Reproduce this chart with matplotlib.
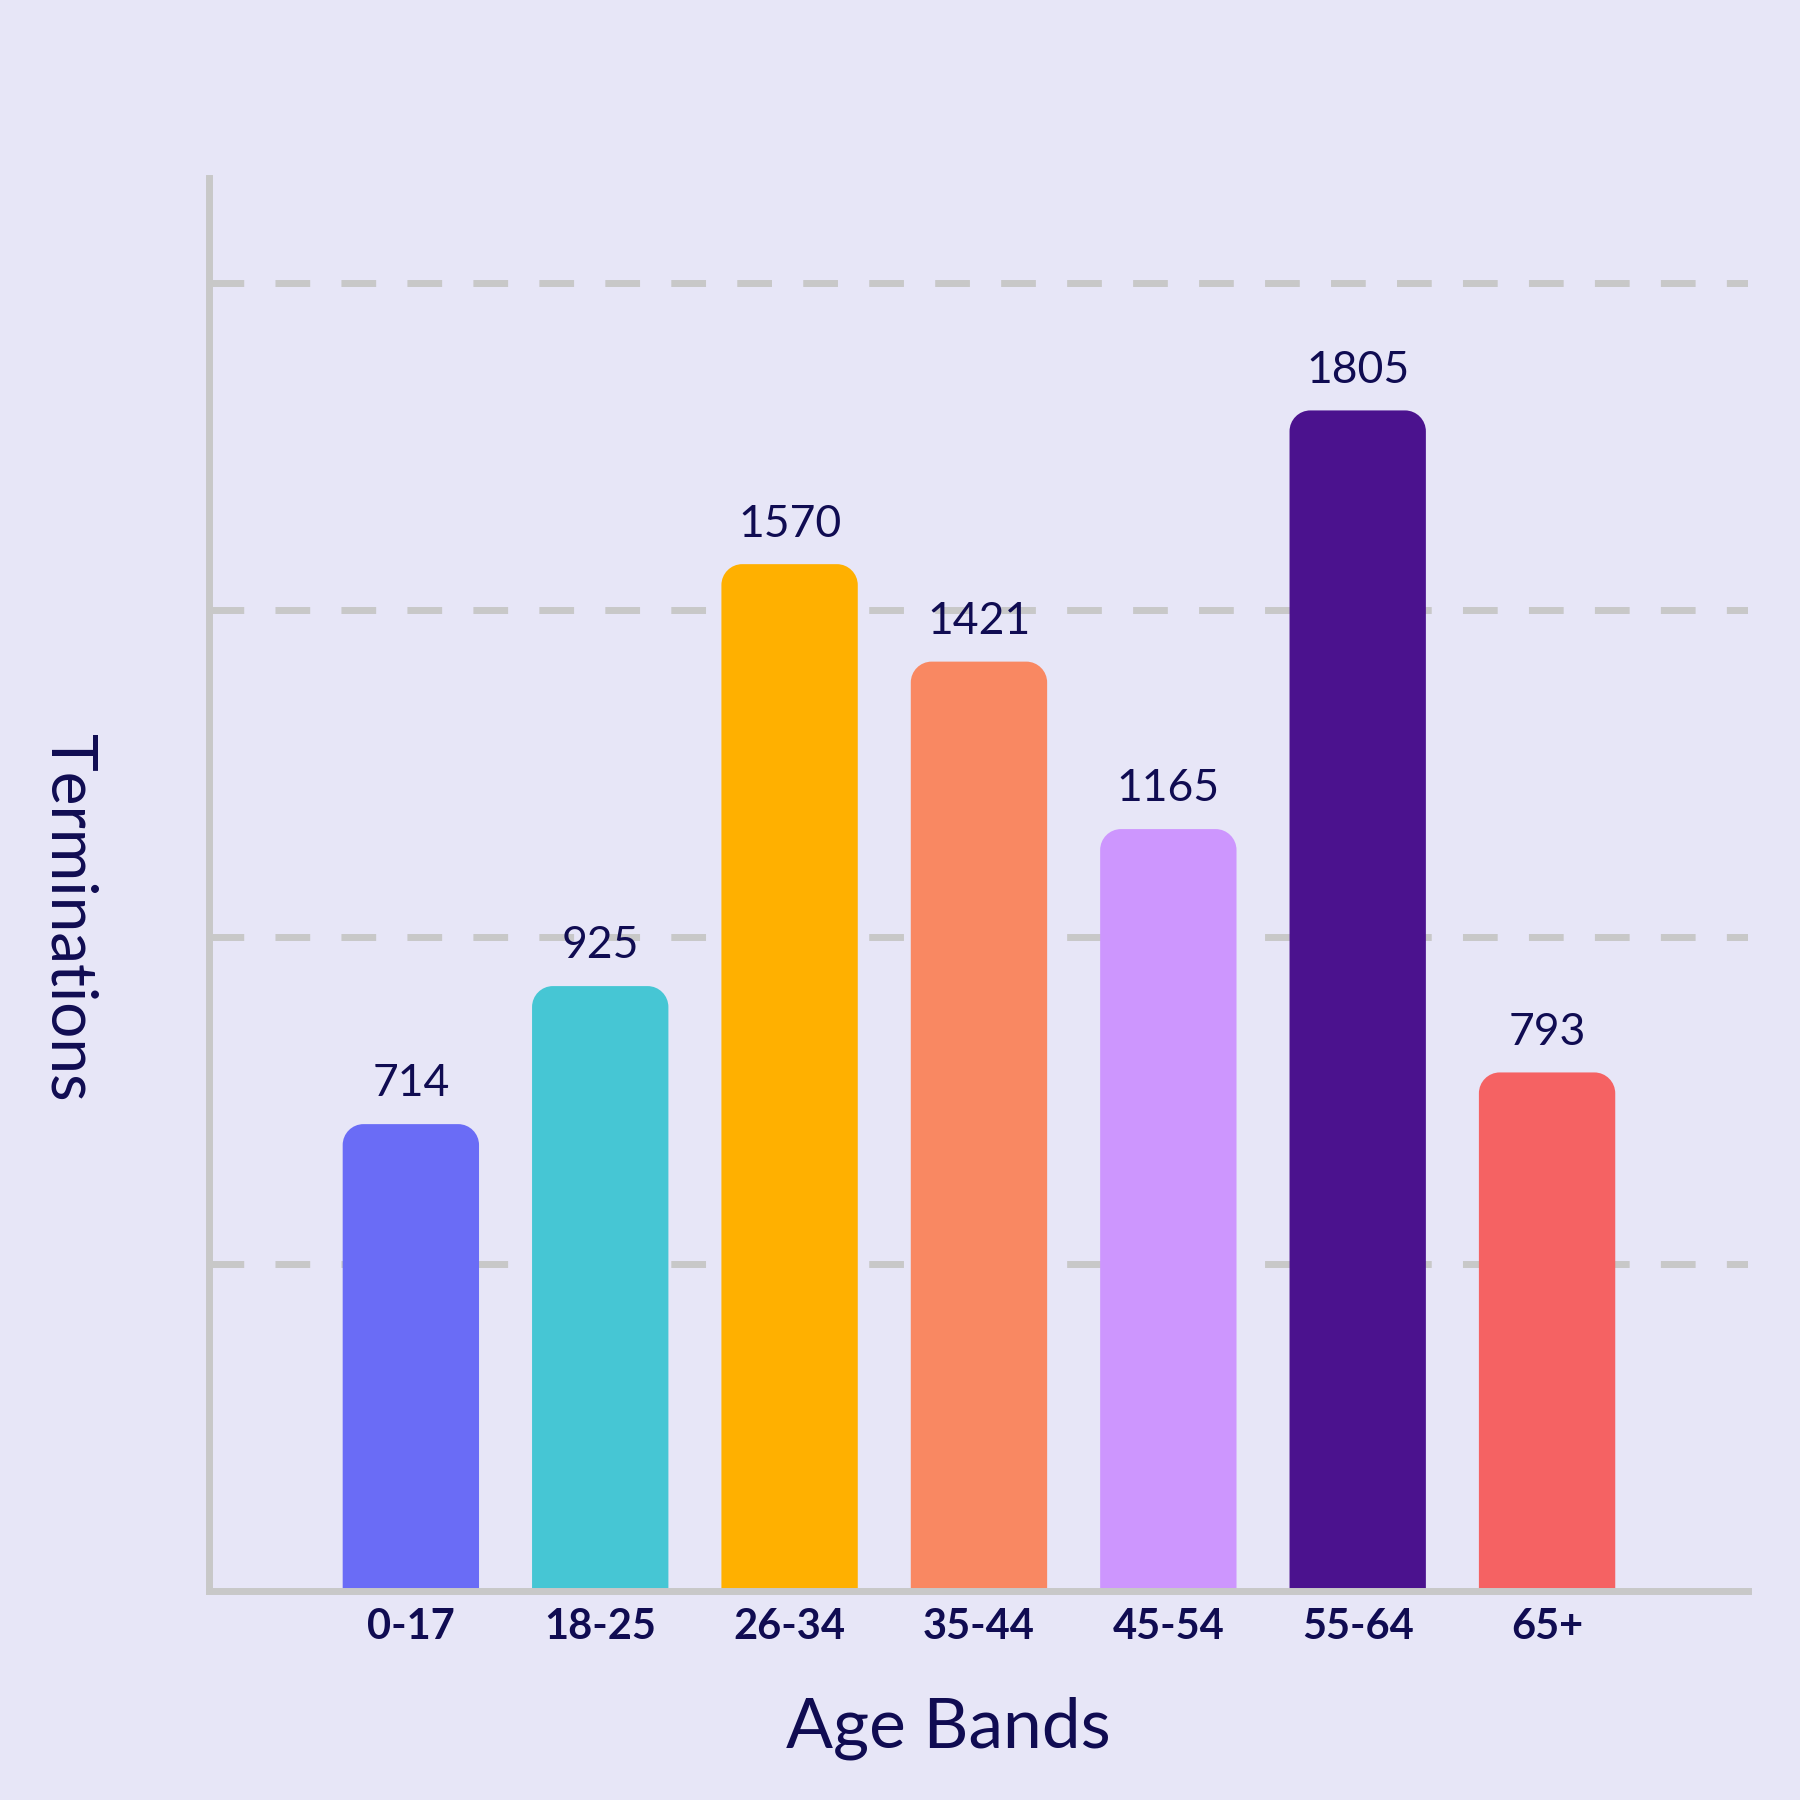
import matplotlib
matplotlib.use("Agg")
import matplotlib.pyplot as plt
from matplotlib.path import Path
from matplotlib.patches import PathPatch

plt.rcParams['font.family'] = ['Lato', 'DejaVu Sans']

age_bands = ["0-17", "18-25", "26-34", "35-44", "45-54", "55-64", "65+"]
terminations = [714, 925, 1570, 1421, 1165, 1805, 793]
colors = ["#6a6cf6", "#46c6d4", "#ffb000", "#f98862", "#cd96fe", "#4b128e", "#f56263"]

bg = "#e7e6f7"
navy = "#100c52"
grey = "#c8c8c8"

fig = plt.figure(figsize=(18, 18), dpi=100, facecolor=bg)
ax = fig.add_axes([0.116, 0.116, 0.855, 0.785], facecolor=bg)
ax.set_xlim(-1.067, 7.06)
ax.set_ylim(0, 2160)

for y in [500, 1000, 1500, 2000]:
    ax.axhline(y, color=grey, lw=5, ls=(0, (5, 4.5)), zorder=1)


def rounded_bar(x, h, w, rx, ry):
    l, r = x - w / 2, x + w / 2
    k = 0.5523
    verts = [(l, 0), (l, h - ry),
             (l, h - ry + k * ry), (l + rx - k * rx, h), (l + rx, h),
             (r - rx, h),
             (r - rx + k * rx, h), (r, h - ry + k * ry), (r, h - ry),
             (r, 0), (l, 0)]
    codes = [Path.MOVETO, Path.LINETO, Path.CURVE4, Path.CURVE4, Path.CURVE4,
             Path.LINETO, Path.CURVE4, Path.CURVE4, Path.CURVE4,
             Path.LINETO, Path.CLOSEPOLY]
    return Path(verts, codes)


for i, (v, c) in enumerate(zip(terminations, colors)):
    ax.add_patch(PathPatch(rounded_bar(i, v, 0.72, 0.11, 32), facecolor=c,
                           edgecolor='none', zorder=2))
    ax.text(i, v + 30, str(v), ha='center', va='bottom', fontsize=32,
            color=navy, zorder=3)

for s in ['top', 'right']:
    ax.spines[s].set_visible(False)
for s in ['left', 'bottom']:
    ax.spines[s].set_color(grey)
    ax.spines[s].set_linewidth(5)
    ax.spines[s].set_zorder(4)

ax.set_yticks([])
ax.set_xticks(range(len(age_bands)))
ax.set_xticklabels(age_bands, fontsize=30, fontweight='bold', color=navy)
ax.tick_params(axis='x', length=0, pad=12)

fig.text(0.527, 0.04, "Age Bands", ha='center', va='center', fontsize=50, color=navy)
fig.text(0.038, 0.49, "Terminations", ha='center', va='center', fontsize=46,
         color=navy, rotation=-90)

fig.savefig("out.png", facecolor=bg)
